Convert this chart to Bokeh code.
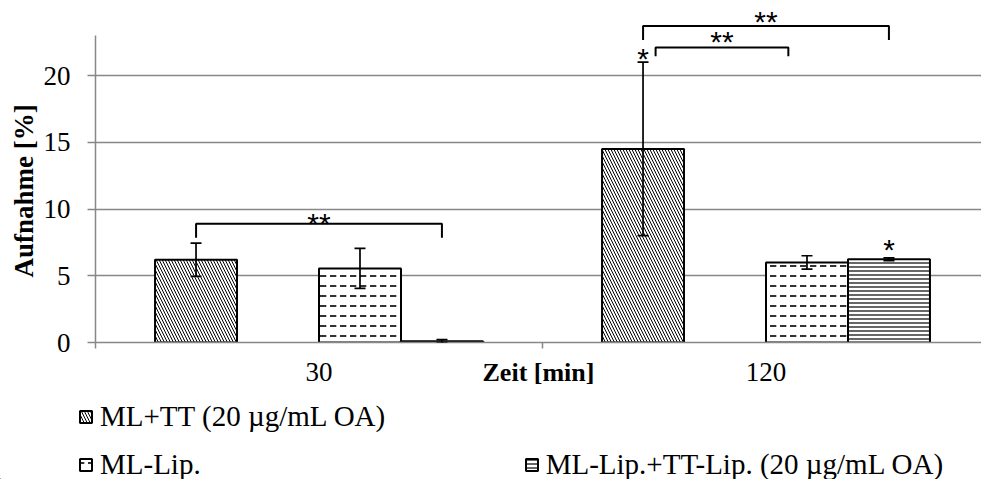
from bokeh.plotting import figure
from bokeh.models import (ColumnDataSource, Range1d, FixedTicker, Whisker, TeeHead,
                          Legend, LegendItem, Title)
from bokeh.embed import file_html
from bokeh.resources import INLINE
from bokeh.core.properties import value

# ---- data -------------------------------------------------------------
times = ["30", "120"]                       # Zeit [min]
labels = ["ML+TT (20 µg/mL OA)", "ML-Lip.", "ML-Lip.+TT-Lip. (20 µg/mL OA)"]

ml_tt = [6.2, 14.5]
ml_tt_err = [1.25, 6.5]
ml_lip = [5.55, 6.0]
ml_lip_err = [1.5, 0.5]
ml_lip_tt = [0.1, 6.24]
ml_lip_tt_err = [0.12, 0.1]

y_ticks = [0, 5, 10, 15, 20]

# significance brackets (x in category units, y in %)
bracket_x0 = [0.225, 1.225, 1.253]
bracket_x1 = [0.775, 1.775, 1.550]
bracket_y = [8.9, 23.7, 22.1]
bracket_drop = [1.05, 1.05, 0.65]
bracket_label = ["**", "**", "**"]
bracket_label_y = [9.36, 24.5, 23.0]

# single-bar markers: (group index, slot index, y of the star)
star_group = [1, 1]
star_slot = [0, 3]
star_y = [21.7, 7.44]

# ---- layout helpers ---------------------------------------------------
slots = 4                    # four slots per time point, second one unused
bar_w = 0.1834
series_slot = [0, 2, 3]
series_vals = [ml_tt, ml_lip, ml_lip_tt]
series_err = [ml_tt_err, ml_lip_err, ml_lip_tt_err]
bar_styles = [
    dict(hatch_pattern="\\", hatch_scale=6, hatch_weight=1),
    dict(hatch_pattern='"', hatch_scale=10, hatch_weight=1.6),
    dict(hatch_pattern="-", hatch_scale=4, hatch_weight=1.2),
]
for st in bar_styles:
    st.update(fill_color="white", line_color="black", line_width=2, hatch_color="black")


def slot_x(group, slot):
    return group + 0.5 + (slot - (slots - 1) / 2) * bar_w


GRAY = "#878787"
SERIF = "Liberation Serif"

p = figure(width=981, height=395, output_backend="svg", toolbar_location=None,
           x_range=Range1d(0, 886 / 447), y_range=Range1d(0, 342 / 13.35),
           min_border_left=95, min_border_right=0, min_border_top=0,
           min_border_bottom=53, outline_line_color=None,
           background_fill_color="white", border_fill_color="white")

for vals, errs, slot, st in zip(series_vals, series_err, series_slot, bar_styles):
    xs = [slot_x(g, slot) for g in range(len(times))]
    src = ColumnDataSource(dict(x=xs, top=vals,
                                upper=[v + e for v, e in zip(vals, errs)],
                                lower=[v - e for v, e in zip(vals, errs)]))
    p.vbar(x="x", top="top", bottom=0, width=bar_w, source=src, **st)
    p.add_layout(Whisker(source=src, base="x", upper="upper", lower="lower",
                         dimension="height", level="annotation",
                         line_color="black", line_width=1.7,
                         upper_head=TeeHead(size=11, line_width=1.7, line_color="black"),
                         lower_head=TeeHead(size=11, line_width=1.7, line_color="black")))

# brackets
bxs, bys = [], []
for x0, x1, y, d in zip(bracket_x0, bracket_x1, bracket_y, bracket_drop):
    bxs.append([x0, x0, x1, x1])
    bys.append([y - d, y, y, y - d])
p.multi_line(bxs, bys, line_color="black", line_width=2)

lift = 0.45
p.text(x=[(a + b) / 2 for a, b in zip(bracket_x0, bracket_x1)],
       y=[v - lift for v in bracket_label_y], text=bracket_label,
       text_font=value("Liberation Sans"), text_font_size="30px",
       text_align="center", text_baseline="middle", text_color="black")
p.text(x=[slot_x(g, s) for g, s in zip(star_group, star_slot)],
       y=[v - lift for v in star_y], text=["*"] * len(star_y),
       text_font=value("Liberation Sans"), text_font_size="30px",
       text_align="center", text_baseline="middle", text_color="black")

# ---- axes -------------------------------------------------------------
yax = p.yaxis[0]
yax.ticker = FixedTicker(ticks=y_ticks)
yax.bounds = (0, 23)
yax.major_label_text_font = SERIF
yax.major_label_text_font_size = "27px"
yax.major_label_text_color = "black"
yax.major_label_standoff = 17
yax.major_tick_out = 8
yax.major_tick_in = 0
yax.minor_tick_out = 0
yax.minor_tick_in = 0
yax.axis_line_color = GRAY
yax.axis_line_width = 1.5
yax.major_tick_line_color = GRAY
yax.major_tick_line_width = 1.5

# y title as a side title, starting a little above the x axis
p.add_layout(Title(text="Aufnahme [%]", align="left", offset=65, standoff=3,
                   text_font=SERIF, text_font_style="bold", text_font_size="27px",
                   text_color="black"), "left")

centers = [g + 0.5 for g in range(len(times))]
overrides = {}
for c, t in zip(centers, times):
    overrides[c] = t
    overrides[str(c)] = t
xax = p.xaxis[0]
xax.ticker = FixedTicker(ticks=centers, minor_ticks=list(range(len(times) + 1)))
xax.major_label_overrides = overrides
xax.axis_label = "Zeit [min]"
xax.axis_label_text_font = SERIF
xax.axis_label_text_font_style = "bold"
xax.axis_label_text_font_size = "26px"
xax.axis_label_text_color = "black"
xax.axis_label_standoff = -26
xax.major_label_text_font = SERIF
xax.major_label_text_font_size = "27px"
xax.major_label_text_color = "black"
xax.major_label_standoff = 14
xax.major_tick_out = 0
xax.major_tick_in = 0
xax.minor_tick_out = 6
xax.minor_tick_in = 0
xax.minor_tick_line_color = GRAY
xax.minor_tick_line_width = 1.5
xax.axis_line_color = GRAY
xax.axis_line_width = 1.5

p.xgrid.visible = False
p.ygrid.ticker = FixedTicker(ticks=y_ticks)
p.ygrid.grid_line_color = GRAY
p.ygrid.grid_line_width = 1.5

# ---- legend strip underneath (screen-pixel ranges) --------------------
lg = figure(width=981, height=84, output_backend="svg", toolbar_location=None,
            x_range=Range1d(0, 981), y_range=Range1d(0, 84),
            x_axis_location=None, y_axis_location=None,
            min_border=0, min_border_left=0, min_border_right=0,
            min_border_top=0, min_border_bottom=0, outline_line_color=None,
            background_fill_color="white", border_fill_color="white")
lg.grid.visible = False
# key renderers: one zero-height bar each, parked far outside the visible range
keys = [lg.vbar(x=[-5000], top=[0], bottom=[0], width=1, **st) for st in bar_styles]


def make_legend(items, loc, spacing):
    return Legend(items=items, location=loc, orientation="horizontal",
                  glyph_width=15, glyph_height=15, label_standoff=7,
                  label_height=30, spacing=spacing, padding=0, margin=0,
                  label_text_font=SERIF, label_text_font_size="29px",
                  label_text_color="black", label_text_baseline="middle",
                  border_line_color=None, background_fill_alpha=0)


lg.add_layout(make_legend([LegendItem(label=labels[0], renderers=[keys[0]])], (78, 46), 0))
lg.add_layout(make_legend([LegendItem(label=labels[1], renderers=[keys[1]]),
                           LegendItem(label=labels[2], renderers=[keys[2]])], (78, -2), 323))

open("out.html", "w").write(file_html([p, lg], INLINE))
